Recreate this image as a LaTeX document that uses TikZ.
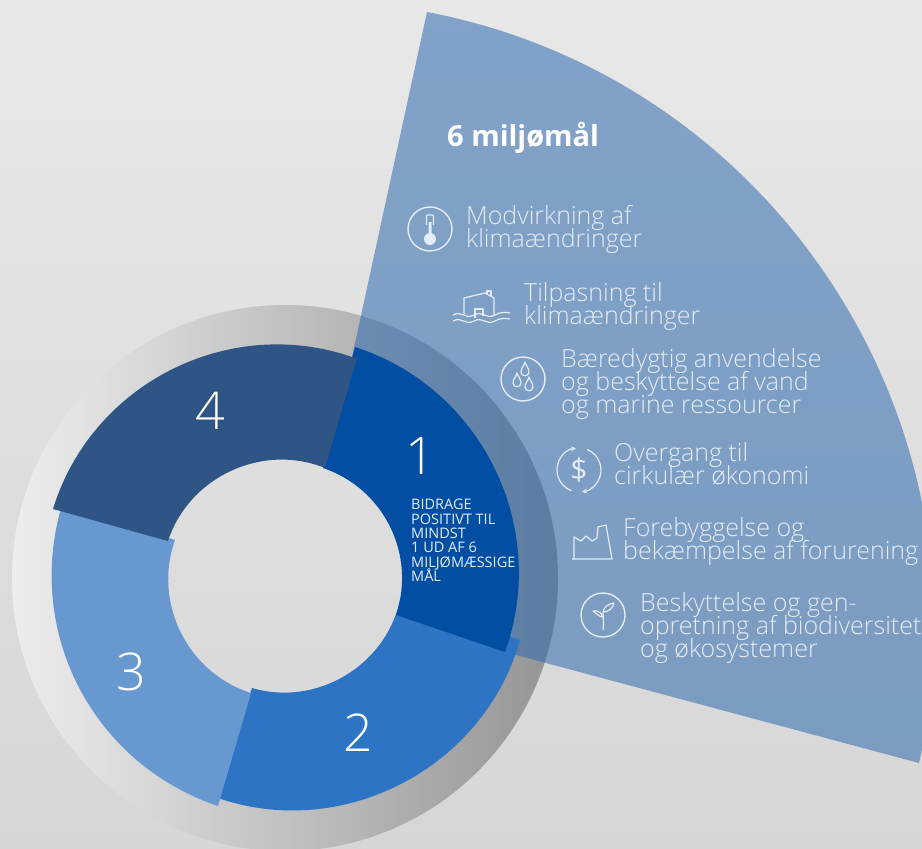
\documentclass[tikz,border=0pt]{standalone}
\usepackage{fontspec}
\setmainfont{Open Sans Light}[BoldFont={Open Sans Bold}]
\newfontfamily\plainfont{Open Sans}
\usepackage{tikz}
\usetikzlibrary{arrows,calc}
\definecolor{wedgeblue}{HTML}{2F6AAF}
\definecolor{segone}{HTML}{024EA2}
\definecolor{segtwo}{HTML}{2E74C4}
\definecolor{segthree}{HTML}{6898D0}
\definecolor{segfour}{HTML}{2E5585}
\definecolor{pale}{HTML}{E4ECF5}
\setlength{\lineskiplimit}{-20pt}

\begin{document}
\begin{tikzpicture}[x=1pt,y=-1pt,
        goal/.style={anchor=base west,align=left,inner sep=0pt,text=pale,font=\fontsize{25}{23}\selectfont},
        numeral/.style={inner sep=0pt,text=white,font=\fontsize{52}{52}\selectfont},
        ringicon/.style={circle,draw=pale,line width=1.4pt,minimum size=44pt,inner sep=0pt},
        stroke/.style={draw=pale,line width=1.2pt,line join=round}]
   \useasboundingbox (0,0) rectangle (922,849);
   \shade[top color=black!9,bottom color=black!16] (0,0) rectangle (922,849);

   \coordinate (C) at (285,578);
   \shade[even odd rule,left color=black!7,right color=black!42]
      (C) circle (273pt) (C) circle (200pt);

   \coordinate (WL) at (352,357);
   \coordinate (WT) at (427,12);
   \coordinate (WR) at (919,763);
   \coordinate (WB) at (505,652);
   \fill[wedgeblue,fill opacity=.55] (WL) -- (WT) to[bend left=46] (WR) -- (WB) -- cycle;

   \coordinate (TO) at (520,640);
   \coordinate (TI) at (400,600);
   \coordinate (UO) at (215,797);
   \coordinate (UI) at (252,688);
   \fill[segtwo] (TO) to[bend left=47] (UO) -- (UI) to[bend right=47] (TI) -- cycle;

   \coordinate (PO) at (218,806);
   \coordinate (PI) at (251,693);
   \coordinate (QO) at (62,505);
   \coordinate (QI) at (175,540);
   \fill[segthree] (PO) to[bend left=44] (QO) -- (QI) to[bend right=46] (PI) -- cycle;

   \coordinate (AO) at (355,347);
   \coordinate (AI) at (323,468);
   \coordinate (BO) at (505,652);
   \coordinate (BI) at (396,615);
   \fill[segone] (AO) to[bend left=46] (BO) -- (BI) to[bend right=45] (AI) -- cycle;

   \coordinate (DO) at (53,509);
   \coordinate (DI) at (168,541);
   \coordinate (EO) at (352,357);
   \coordinate (EC) at (357,358);
   \coordinate (EI) at (325,468);
   \fill[segfour] (DO) to[bend left=46] (EO) -- (EC) -- (EI) to[bend right=47] (DI) -- cycle;

   \node (one) [numeral] at (420,456) {1};
   \node (two) [numeral] at (358,733) {2};
   \node (three) [numeral] at (131,672) {3};
   \node (four) [numeral] at (210,411) {4};
   \node (bidrage) [anchor=north west,align=left,inner sep=0pt,text=pale,font=\fontsize{14.5}{14.4}\selectfont\plainfont] at (411,499)
      {BIDRAGE\\POSITIVT TIL\\MINDST\\1 UD AF 6\\MILJØMÆSSIGE\\MÅL};

   \node (title) [anchor=base west,inner sep=0pt,text=white,font=\fontsize{29}{29}\selectfont\bfseries] at (447,146) {6 miljømål};

   \node (g1) [goal] at (466,247) {Modvirkning af\\klimaændringer};
   \node (g2) [goal] at (524,324) {Tilpasning til\\klimaændringer};
   \node (g3) [goal] at (561,413) {Bæredygtig anvendelse\\og beskyttelse af vand\\og marine ressourcer};
   \node (g4) [goal] at (614,484) {Overgang til\\cirkulær økonomi};
   \node (g5) [goal] at (623,559) {Forebyggelse og\\bekæmpelse af forurening};
   \node (g6) [goal] at (640,657) {Beskyttelse og gen-\\opretning af biodiversitet\\og økosystemer};

   \node (thermo) [ringicon] at (430,229) {};
   \draw[stroke,rounded corners=1pt] (426.5,225) -- (426.5,215) -- (433.5,215) -- (433.5,225);
   \fill[pale] (428.5,222) rectangle (431.5,236) (430,239) circle (6pt);

   \draw[stroke] (464,315) -- (464,298) -- (485,293) -- (494,298) -- (494,315);
   \draw[stroke] (487,294) -- (487,291) -- (491,291) -- (491,296);
   \draw[stroke] (475,318) -- (475,309) -- (483,309) -- (483,316);
   \foreach \y in {315,321}
      \draw[stroke] (453,\y) .. controls (462,\y-5) and (465,\y+5) .. (474,\y) .. controls (483,\y-5) and (486,\y+5) .. (495,\y) .. controls (500,\y-3) and (505,\y-3) .. (510,\y-2);

   \node (drops) [ringicon] at (523,379) {};
   \foreach \x/\y in {525/370,517/381,529/385}
      \draw[stroke,shift={(\x,\y)}] (0,-8) .. controls (-1,-4) and (-4,-2) .. (-4,2) .. controls (-4,7) and (4,7) .. (4,2) .. controls (4,-2) and (1,-4) .. (0,-8) -- cycle;

   \node (dollar) [inner sep=0pt,text=pale,font=\fontsize{30}{30}\selectfont\plainfont] at (579,470) {\$};
   \draw[stroke,stealth-] ($(dollar)+(98:22pt)$) arc[start angle=98,end angle=250,radius=22pt];
   \draw[stroke,-stealth] ($(dollar)+(68:22pt)$) arc[start angle=68,end angle=-82,radius=22pt];

   \draw[stroke] (572,559) -- (612,559) -- (606,525) -- (598,527) -- (597,538) -- (592,541) -- (586,536) -- (581,541) -- (574,537) -- (574,559);

   \node (sprout) [ringicon] at (603,615) {};
   \draw[stroke] (603,630) .. controls (604,622) and (603,616) .. (603,612);
   \draw[stroke] (603,612) .. controls (604,606) and (609,604) .. (614,603) .. controls (613,608) and (609,612) .. (603,612);
   \draw[stroke] (603,617) .. controls (601,612) and (597,610) .. (593,611) .. controls (596,613) and (599,617) .. (603,617);
\end{tikzpicture}
\end{document}
